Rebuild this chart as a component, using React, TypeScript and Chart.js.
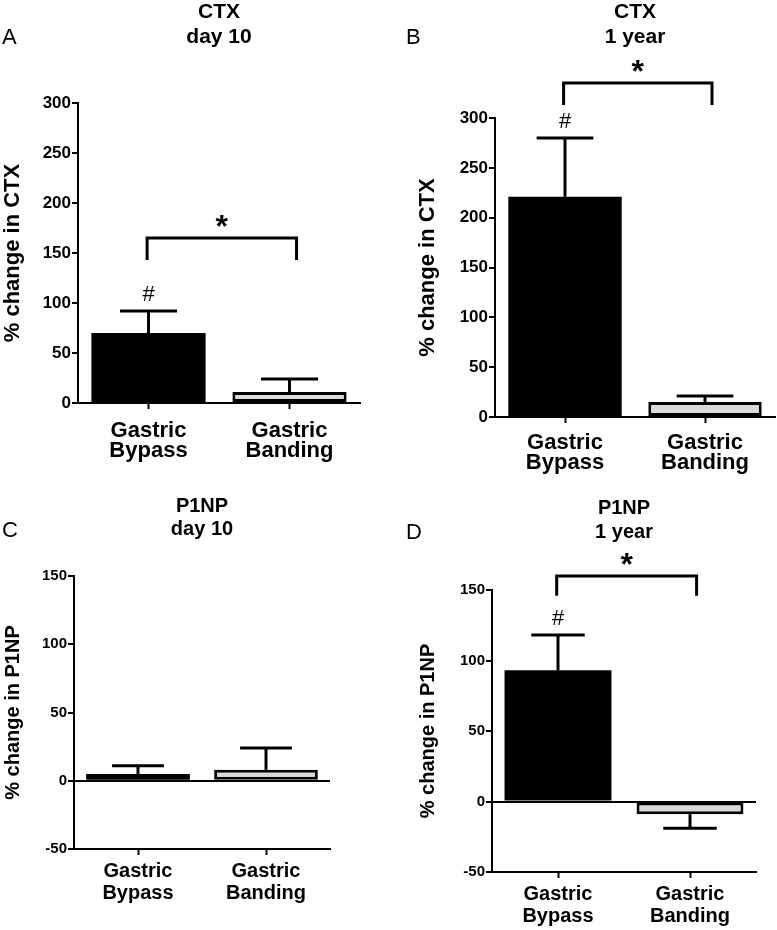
import { useEffect, useRef } from 'react';
import { Chart, registerables } from 'chart.js';

Chart.register(...registerables);

const FONT = '"Liberation Sans", Arial, Helvetica, sans-serif';

// ---------- data ----------
const categories = [['Gastric', 'Bypass'], ['Gastric', 'Banding']];

const ctxDay10Means = [70, 11];
const ctxDay10ErrorTops = [92, 24];
const ctxDay10Bracket = [165, 143]; // bracket top, leg end

const ctx1yMeans = [221, 15];
const ctx1yErrorTops = [280, 21];
const ctx1yBracket = [335, 313];

const p1npDay10Means = [5, 8];
const p1npDay10ErrorTops = [11, 24];

const p1np1yMeans = [93, -9];
const p1np1yErrorTops = [118, -19];
const p1np1yBracket = [160, 146];

const ctxAxisRange = [0, 300, 50];
const p1npAxisRange = [-50, 150, 50];

const titlesA = ['CTX', 'day 10'];
const titlesB = ['CTX', '1 year'];
const titlesC = ['P1NP', 'day 10'];
const titlesD = ['P1NP', '1 year'];

// ---------- annotation plugin ----------
const annotPlugin = {
  id: 'annot',
  afterDraw(chart: any, _args: any, opts: any) {
    const { ctx } = chart;
    const ys = chart.scales.y;
    const xs = chart.scales.x;
    const meta = chart.getDatasetMeta(0);
    ctx.save();
    ctx.strokeStyle = '#000';
    ctx.fillStyle = '#000';
    ctx.lineCap = 'butt';
    // error bars
    (opts.errorTops || []).forEach((e: number, i: number) => {
      const bar = meta.data[i];
      const x = bar.x;
      const w = bar.width;
      const y0 = ys.getPixelForValue(opts.means[i]);
      const y1 = ys.getPixelForValue(e);
      ctx.lineWidth = 3;
      ctx.beginPath();
      ctx.moveTo(x, y0);
      ctx.lineTo(x, y1);
      ctx.stroke();
      ctx.beginPath();
      ctx.moveTo(x - w / 4, y1);
      ctx.lineTo(x + w / 4, y1);
      ctx.stroke();
    });
    // hash over first bar
    if (opts.hash) {
      const bar = meta.data[0];
      const yTop = ys.getPixelForValue(opts.errorTops[0]);
      ctx.font = `22px ${FONT}`;
      ctx.textAlign = 'center';
      ctx.textBaseline = 'alphabetic';
      ctx.fillText('#', bar.x, yTop - 10);
    }
    // significance bracket
    if (opts.bracket) {
      const xa = xs.getPixelForValue(0 + opts.bracketOffsets[0]);
      const xb = xs.getPixelForValue(1 + opts.bracketOffsets[1]);
      const yt = ys.getPixelForValue(opts.bracket[0]);
      const yl = ys.getPixelForValue(opts.bracket[1]);
      ctx.lineWidth = 3;
      ctx.lineJoin = 'miter';
      ctx.beginPath();
      ctx.moveTo(xa, yl);
      ctx.lineTo(xa, yt);
      ctx.lineTo(xb, yt);
      ctx.lineTo(xb, yl);
      ctx.stroke();
      ctx.font = `bold 32px ${FONT}`;
      ctx.textAlign = 'center';
      ctx.textBaseline = 'alphabetic';
      ctx.fillText('*', (xa + xb) / 2, yt - 1);
    }
    // panel letter
    ctx.font = `22px ${FONT}`;
    ctx.textAlign = 'left';
    ctx.textBaseline = 'middle';
    ctx.fillText(opts.letter, opts.letterX, opts.letterY);
    ctx.restore();
  },
};

type Look = {
  padL: number; padR: number; padT: number; padB: number;
  yW: number; xH: number;
  titleSize: number; titleLH: number; titlePadB: number;
  yTitleSize: number; tickSize: number; xLabelSize: number; xLabelLH: number; xLabelPad: number;
  letterX: number; letterY: number; zeroLine: boolean;
};

function makeConfig(
  means: number[], errorTops: number[], range: number[], titles: string[], yTitle: string,
  bracket: number[] | null, letter: string, look: Look,
): any {
  return {
    type: 'bar',
    data: {
      labels: categories,
      datasets: [
        {
          data: means,
          backgroundColor: ['#000000', '#dadada'],
          borderColor: '#000000',
          borderWidth: [0, 3],
          borderSkipped: false,
          barPercentage: 0.81,
          categoryPercentage: 1,
        },
      ],
    },
    options: {
      responsive: false,
      animation: false,
      devicePixelRatio: 1,
      events: [],
      layout: { padding: { left: look.padL, right: look.padR, top: look.padT, bottom: look.padB } },
      plugins: {
        legend: { display: false },
        tooltip: { enabled: false },
        title: {
          display: true,
          text: titles,
          fullSize: false,
          color: '#000',
          font: { family: FONT, size: look.titleSize, weight: 'bold', lineHeight: `${look.titleLH}px` },
          padding: { top: 0, bottom: look.titlePadB },
        },
        annot: {
          means, errorTops, bracket, letter,
          hash: bracket !== null,
          bracketOffsets: [-0.01, 0.05],
          letterX: look.letterX, letterY: look.letterY,
        },
      },
      scales: {
        x: {
          offset: true,
          afterFit: (s: any) => { s.height = look.xH; },
          border: { display: true, color: '#000', width: 2 },
          grid: {
            display: true, offset: false, drawOnChartArea: false,
            tickLength: 6, tickColor: '#000', tickWidth: 2,
          },
          ticks: {
            color: '#000', autoSkip: false, maxRotation: 0, padding: look.xLabelPad,
            font: { family: FONT, size: look.xLabelSize, weight: 'bold', lineHeight: `${look.xLabelLH}px` },
          },
        },
        y: {
          min: range[0], max: range[1],
          afterFit: (s: any) => { s.width = look.yW; },
          border: { display: true, color: '#000', width: 2 },
          grid: {
            display: true,
            drawOnChartArea: look.zeroLine,
            color: (c: any) => (c.tick && c.tick.value === 0 ? '#000' : 'rgba(0,0,0,0)'),
            lineWidth: 2,
            tickLength: 6, tickColor: '#000', tickWidth: 2,
          },
          ticks: {
            stepSize: range[2], color: '#000', padding: 1,
            font: { family: FONT, size: look.tickSize, weight: 'bold' },
          },
          title: {
            display: true, text: yTitle, color: '#000', padding: 0,
            font: { family: FONT, size: look.yTitleSize, weight: 'bold' },
          },
        },
      },
    },
    plugins: [annotPlugin],
  };
}

const lookA: Look = {
  padL: 0, padR: 417, padT: 0, padB: 463, yW: 78, xH: 64,
  titleSize: 21, titleLH: 25, titlePadB: 53,
  yTitleSize: 22, tickSize: 17, xLabelSize: 22, xLabelLH: 20, xLabelPad: 12,
  letterX: 2, letterY: 38, zeroLine: false,
};
const lookB: Look = {
  padL: 415, padR: 2, padT: 0, padB: 449, yW: 80, xH: 64,
  titleSize: 21, titleLH: 25, titlePadB: 68,
  yTitleSize: 22, tickSize: 17, xLabelSize: 22, xLabelLH: 20, xLabelPad: 10,
  letterX: 406, letterY: 38, zeroLine: false,
};
const lookC: Look = {
  padL: 1, padR: 447, padT: 495, padB: 17, yW: 73, xH: 64,
  titleSize: 20, titleLH: 23, titlePadB: 35,
  yTitleSize: 20, tickSize: 15, xLabelSize: 20, xLabelLH: 22, xLabelPad: 5,
  letterX: 2, letterY: 531, zeroLine: true,
};
const lookD: Look = {
  padL: 416, padR: 21, padT: 496, padB: 0, yW: 76, xH: 58,
  titleSize: 20, titleLH: 24, titlePadB: 46,
  yTitleSize: 20, tickSize: 15, xLabelSize: 20, xLabelLH: 22, xLabelPad: 5,
  letterX: 406, letterY: 533, zeroLine: true,
};

export default function App() {
  const refA = useRef<HTMLCanvasElement>(null);
  const refB = useRef<HTMLCanvasElement>(null);
  const refC = useRef<HTMLCanvasElement>(null);
  const refD = useRef<HTMLCanvasElement>(null);

  useEffect(() => {
    const charts = [
      new Chart(refA.current!, makeConfig(ctxDay10Means, ctxDay10ErrorTops, ctxAxisRange, titlesA, '% change in CTX', ctxDay10Bracket, 'A', lookA)),
      new Chart(refB.current!, makeConfig(ctx1yMeans, ctx1yErrorTops, ctxAxisRange, titlesB, '% change in CTX', ctx1yBracket, 'B', lookB)),
      new Chart(refC.current!, makeConfig(p1npDay10Means, p1npDay10ErrorTops, p1npAxisRange, titlesC, '% change in P1NP', null, 'C', lookC)),
      new Chart(refD.current!, makeConfig(p1np1yMeans, p1np1yErrorTops, p1npAxisRange, titlesD, '% change in P1NP', p1np1yBracket, 'D', lookD)),
    ];
    return () => charts.forEach((c) => c.destroy());
  }, []);

  const cs: any = { position: 'absolute', left: 0, top: 0 };
  return (
    <div style={{ position: 'absolute', left: 0, top: 0, width: 777, height: 930, background: '#fff', overflow: 'hidden' }}>
      <canvas ref={refA} width={777} height={930} style={cs} />
      <canvas ref={refB} width={777} height={930} style={cs} />
      <canvas ref={refC} width={777} height={930} style={cs} />
      <canvas ref={refD} width={777} height={930} style={cs} />
    </div>
  );
}
